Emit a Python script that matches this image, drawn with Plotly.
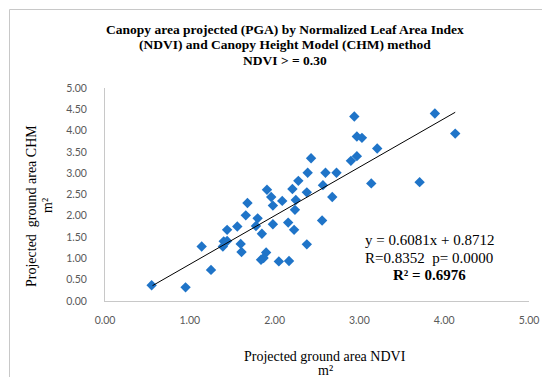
import plotly.graph_objects as go

# Data
ndvi = [0.55, 0.95, 1.25, 1.14, 1.39, 1.40, 1.44, 1.44, 1.56, 1.60, 1.61, 1.66, 1.68,
        2.94, 2.97, 2.43, 2.90, 2.97, 2.39, 2.60, 2.73, 2.28, 2.57, 2.21, 1.91, 2.38,
        2.68, 1.96, 2.09, 2.25, 1.98, 2.24, 1.80, 1.78, 1.98, 2.16, 2.23, 2.56, 1.85,
        2.38, 1.90, 1.84, 1.87, 2.05, 2.17, 3.89, 4.13, 3.03, 3.21, 3.14, 3.71]
chm = [0.37, 0.32, 0.73, 1.28, 1.28, 1.40, 1.41, 1.67, 1.75, 1.34, 1.15, 2.01, 2.30,
       4.33, 3.86, 3.35, 3.29, 3.40, 3.01, 3.01, 3.01, 2.82, 2.72, 2.63, 2.61, 2.55,
       2.44, 2.44, 2.35, 2.37, 2.24, 2.14, 1.94, 1.76, 1.80, 1.84, 1.67, 1.89, 1.58,
       1.33, 1.14, 0.97, 1.01, 0.93, 0.94, 4.40, 3.93, 3.83, 3.58, 2.76, 2.79]
trend_x = [0.56, 4.13]
trend_y = [0.36, 4.43]

x_ticks = [0, 1, 2, 3, 4, 5]
y_ticks = [0, 0.5, 1, 1.5, 2, 2.5, 3, 3.5, 4, 4.5, 5]

title_lines = [
    "Canopy area projected (PGA) by Normalized Leaf Area Index",
    "(NDVI) and Canopy Height Model (CHM) method",
    "NDVI > = 0.30",
]
stats_lines = ["y = 0.6081x + 0.8712", "R=0.8352  p= 0.0000", "<b>R² = 0.6976</b>"]

W, H = 550, 377
L, R, T, B = 97, 29, 80, 84
PW, PH = W - L - R, H - T - B


def px(x):
    return (x - L) / PW


def py(y):
    return (H - B - y) / PH


fig = go.Figure()
fig.add_trace(go.Scatter(x=ndvi, y=chm, mode="markers",
                         marker=dict(symbol="diamond", size=8, color="#1f74c8"),
                         showlegend=False, hoverinfo="skip"))
fig.add_trace(go.Scatter(x=trend_x, y=trend_y, mode="lines",
                         line=dict(color="black", width=1),
                         showlegend=False, hoverinfo="skip"))

serif = "Liberation Serif"
sans = "Lato"
annotations = []


def note(text, x, y, size, angle=0):
    annotations.append(dict(text=text, x=px(x), y=py(y), xref="paper", yref="paper",
                            showarrow=False, xanchor="center", yanchor="middle", textangle=angle,
                            font=dict(family=serif, size=size, color="black")))


for t, yy in zip(title_lines, [21, 36.5, 52]):
    note("<b>" + t + "</b>", 277, yy, 13.5)
for t, yy in zip(stats_lines, [232, 250, 267]):
    note(t, 421, yy, 15)
# axis titles
note("Projected ground area NDVI", 317, 348, 14)
note("m²", 317, 362, 14)
note("Projected  ground area CHM", 23, 198, 14, -90)
note("m²", 39, 198, 14, -90)

fig.update_layout(
    width=W, height=H,
    margin=dict(l=L, r=R, t=T, b=B),
    paper_bgcolor="white", plot_bgcolor="white",
    annotations=annotations,
    shapes=[dict(type="rect", xref="paper", yref="paper",
                 x0=px(1.5), x1=px(547.5), y0=py(373.5), y1=py(1.5),
                 line=dict(color="#c8c8c8", width=1))],
    xaxis=dict(range=[0, 5], tickvals=x_ticks, tickformat=".2f", showgrid=False, zeroline=False,
               showline=True, linecolor="#c8c8c8", linewidth=1,
               ticks="outside", ticklen=9, tickcolor="rgba(0,0,0,0)",
               tickfont=dict(family=sans, size=10.5, color="#595959"), fixedrange=True),
    yaxis=dict(range=[0, 5], tickvals=y_ticks, tickformat=".2f", showgrid=False, zeroline=False,
               showline=True, linecolor="#c8c8c8", linewidth=1,
               ticks="outside", ticklen=15, tickcolor="rgba(0,0,0,0)",
               tickfont=dict(family=sans, size=10.5, color="#595959"), fixedrange=True),
)

fig.write_html("out.html")
